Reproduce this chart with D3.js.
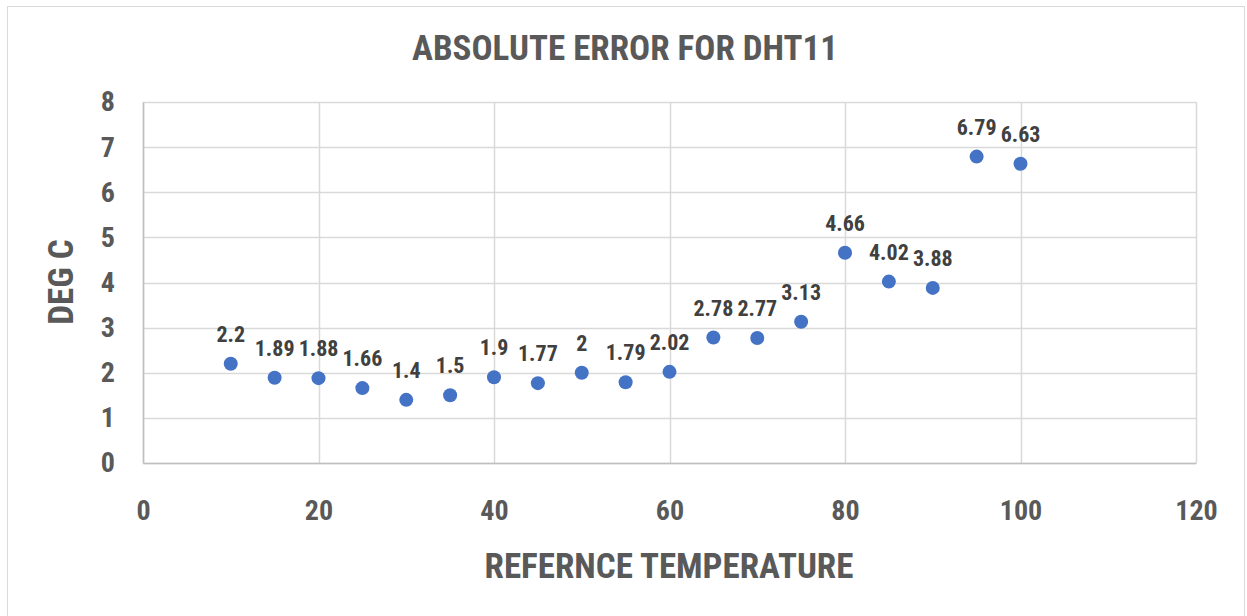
<!DOCTYPE html>
<html>
<head>
<meta charset="utf-8">
<script src="https://cdn.jsdelivr.net/npm/d3@7"></script>
<style>
  body { margin: 0; background: #fff; }
  text { font-family: "Liberation Sans Narrow", "Roboto Condensed", "DejaVu Sans Condensed", sans-serif; font-weight: bold; }
</style>
</head>
<body>
<svg id="chart"></svg>
<script>
const temps = [10, 15, 20, 25, 30, 35, 40, 45, 50, 55, 60, 65, 70, 75, 80, 85, 90, 95, 100];
const absError = [2.2, 1.89, 1.88, 1.66, 1.4, 1.5, 1.9, 1.77, 2, 1.79, 2.02, 2.78, 2.77, 3.13, 4.66, 4.02, 3.88, 6.79, 6.63];
const xTicks = [0, 20, 40, 60, 80, 100, 120];
const yTicks = [0, 1, 2, 3, 4, 5, 6, 7, 8];

const W = 1247, H = 616;
const margin = { top: 102, right: 51, bottom: 153, left: 143 },
  width = W - margin.left - margin.right,
  height = H - margin.top - margin.bottom;

const root = d3.select("#chart").attr("width", W).attr("height", H);

// chart frame
root.append("rect")
  .attr("x", 7.5).attr("y", 6.5)
  .attr("width", 1237).attr("height", 620)
  .attr("fill", "#fff").attr("stroke", "#d9d9d9");

const svg = root.append("g").attr("transform", `translate(${margin.left},${margin.top})`);

const x = d3.scaleLinear().domain([0, 120]).range([0, width]);
const y = d3.scaleLinear().domain([0, 8]).range([height, 0]);

// gridlines
svg.append("g")
  .selectAll("line")
  .data(yTicks)
  .enter()
  .append("line")
  .attr("x1", 0).attr("x2", width)
  .attr("y1", (d) => Math.round(y(d)) + 0.5).attr("y2", (d) => Math.round(y(d)) + 0.5)
  .attr("stroke", "#d9d9d9").attr("stroke-width", 1.5);

svg.append("g")
  .selectAll("line")
  .data(xTicks)
  .enter()
  .append("line")
  .attr("y1", 0).attr("y2", height)
  .attr("x1", (d) => Math.round(x(d)) + 0.5).attr("x2", (d) => Math.round(x(d)) + 0.5)
  .attr("stroke", "#d9d9d9").attr("stroke-width", 1.5);

// axes
const xAxis = svg.append("g")
  .attr("transform", `translate(0,${height})`)
  .call(d3.axisBottom(x).tickValues(xTicks).tickSize(0).tickPadding(37));
xAxis.select(".domain").attr("stroke", "#bfbfbf").attr("stroke-width", 1.5);
xAxis.selectAll("text").attr("font-size", "28px").attr("fill", "#595959");

const yAxis = svg.append("g")
  .call(d3.axisLeft(y).tickValues(yTicks).tickSize(0).tickPadding(28));
yAxis.select(".domain").attr("stroke", "#bfbfbf").attr("stroke-width", 1.5);
yAxis.selectAll("text").attr("font-size", "28px").attr("fill", "#595959");

root.selectAll(".tick").attr("font-family", null);
root.selectAll(".tick text").attr("font-family", null);

// titles
root.append("text")
  .attr("x", 625).attr("y", 60)
  .attr("text-anchor", "middle")
  .attr("font-size", "35px")
  .attr("fill", "#595959")
  .text("ABSOLUTE ERROR FOR DHT11");

root.append("text")
  .attr("transform", `translate(73,282) rotate(-90)`)
  .attr("text-anchor", "middle")
  .attr("font-size", "35px")
  .attr("fill", "#595959")
  .text("DEG C");

root.append("text")
  .attr("x", 669).attr("y", 578)
  .attr("text-anchor", "middle")
  .attr("font-size", "35px")
  .attr("fill", "#595959")
  .text("REFERNCE TEMPERATURE");

// points
const pts = temps.map((t, i) => ({ t, v: absError[i] }));

svg.selectAll("circle")
  .data(pts)
  .enter()
  .append("circle")
  .attr("cx", (d) => x(d.t))
  .attr("cy", (d) => y(d.v))
  .attr("r", 7)
  .attr("fill", "#4472c4");

// data labels above each point
svg.selectAll("text.lbl")
  .data(pts)
  .enter()
  .append("text")
  .attr("class", "lbl")
  .attr("x", (d) => x(d.t))
  .attr("y", (d) => y(d.v) - 22)
  .attr("text-anchor", "middle")
  .attr("font-size", "22px")
  .attr("fill", "#404040")
  .text((d) => d.v);
</script>
</body>
</html>
